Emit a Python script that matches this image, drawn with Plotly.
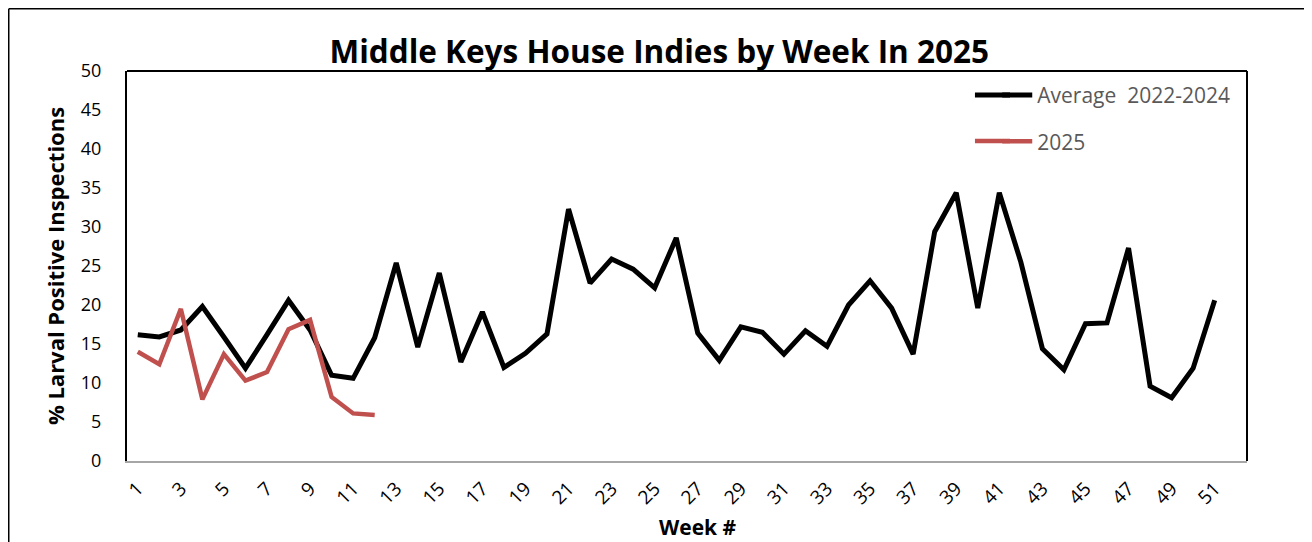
import plotly.graph_objects as go

weeks_avg = list(range(1, 52))
avg_2022_2024 = [16.2, 15.9, 16.8, 19.8, 15.9, 11.9, 16.2, 20.6, 16.8, 11.0,
                 10.6, 15.8, 25.4, 14.6, 24.1, 12.7, 19.1, 12.0, 13.8, 16.3,
                 32.3, 22.8, 25.9, 24.6, 22.2, 28.6, 16.4, 12.9, 17.2, 16.5,
                 13.7, 16.7, 14.7, 20.0, 23.1, 19.6, 13.7, 29.4, 34.4, 19.6,
                 34.4, 25.5, 14.4, 11.7, 17.6, 17.7, 27.3, 9.6, 8.1, 11.9,
                 20.6]
weeks_2025 = list(range(1, 13))
vals_2025 = [14.0, 12.4, 19.5, 7.9, 13.7, 10.3, 11.4, 16.9, 18.1, 8.2, 6.1, 5.9]
x_ticks = list(range(1, 52, 2))
y_ticks = list(range(0, 51, 5))

FONT = "Open Sans"
BLACK = "#000000"
RED = "#C0504D"

fig = go.Figure()
fig.add_trace(go.Scatter(x=weeks_avg, y=avg_2022_2024, mode="lines",
                         name="Average  2022-2024", legendgroup="a",
                         line=dict(color=BLACK, width=5)))
fig.add_trace(go.Scatter(x=weeks_2025, y=vals_2025, mode="lines",
                         name="2025", legendgroup="b",
                         line=dict(color=RED, width=4.5)))

fig.update_layout(
    width=1312, height=542,
    margin=dict(l=119, r=73, t=63, b=89),
    paper_bgcolor="white", plot_bgcolor="white",
    font=dict(family=FONT, color=BLACK),
    title=dict(text="<b>Middle Keys House Indies by Week In 2025</b>",
               x=0.4964, xanchor="center", y=0.919, yanchor="middle",
               font=dict(size=31.5, family=FONT, color=BLACK)),
    xaxis=dict(range=[0.5, 52.5], tickvals=x_ticks, ticktext=[str(v) for v in x_ticks],
               tickangle=-45, tickfont=dict(size=19, family=FONT),
               showgrid=False, zeroline=False, showline=True,
               linecolor="#A6A6A6", linewidth=2, ticks="", ticklabelstandoff=7),
    yaxis=dict(range=[0, 50], tickvals=y_ticks, tickfont=dict(size=18, family=FONT),
               showgrid=False, zeroline=False, showline=True,
               linecolor=BLACK, linewidth=2, ticks="", ticklabelstandoff=20,
               title=dict(text="<b>% Larval Positive Inspections</b>",
                          font=dict(size=22, family=FONT), standoff=10)),
    legend=dict(x=0.777, y=0.99, xanchor="left", yanchor="top",
                font=dict(size=21, family=FONT, color="#595959"),
                bgcolor="rgba(0,0,0,0)", tracegroupgap=16),
    showlegend=True,
    annotations=[dict(text="<b>Week #</b>", xref="paper", yref="paper",
                      x=0.51, y=-0.17, xanchor="center", yanchor="middle",
                      showarrow=False, font=dict(size=21, family=FONT, color=BLACK))],
)

# plot area top and right border lines
fig.add_shape(type="line", xref="paper", yref="paper", x0=0, x1=1, y0=1, y1=1,
              line=dict(color=BLACK, width=2))
fig.add_shape(type="line", xref="paper", yref="paper", x0=1, x1=1, y0=0, y1=1,
              line=dict(color=BLACK, width=2))
# outer chart frame (left, top, right)
FL, FR, FT, FB = -0.10558, 1.05179, 1.1596, -0.35
for (xa, xb, ya, yb) in [(FL, FL, FB, FT), (FL, FR, FT, FT), (FR, FR, FB, FT)]:
    fig.add_shape(type="line", xref="paper", yref="paper", x0=xa, x1=xb, y0=ya, y1=yb,
                  line=dict(color=BLACK, width=1.5))
# longer legend key lines (legend decoration)
for (yy, col, w) in [(0.9385, BLACK, 5), (0.8205, RED, 4.5)]:
    fig.add_shape(type="line", xref="paper", yref="paper", x0=0.7571, x1=0.7884,
                  y0=yy, y1=yy, line=dict(color=col, width=w))

fig.write_html("out.html")
